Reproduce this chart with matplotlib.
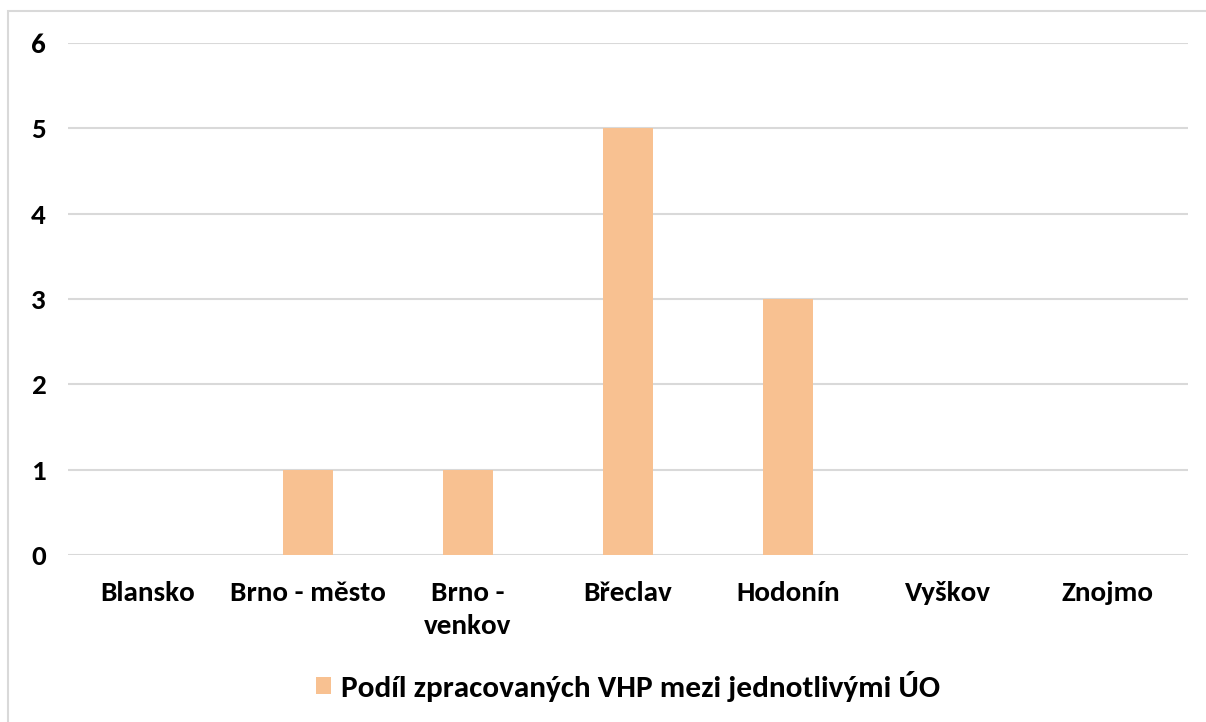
import matplotlib
matplotlib.use("Agg")
import matplotlib.pyplot as plt
from matplotlib.patches import Rectangle, Patch

categories = ["Blansko", "Brno - město", "Brno -\nvenkov", "Břeclav", "Hodonín", "Vyškov", "Znojmo"]
values = [0, 1, 1, 5, 3, 0, 0]
series_name = "Podíl zpracovaných VHP mezi jednotlivými ÚO"
yticks = [0, 1, 2, 3, 4, 5, 6]

plt.rcParams['font.family'] = ['Carlito', 'Liberation Sans', 'DejaVu Sans']

W, H = 1206, 722
fig = plt.figure(figsize=(W / 100, H / 100), dpi=100)
ax = fig.add_axes([68 / W, 1 - 555 / H, 1120 / W, (555 - 43) / H])

bar_color = "#F8C191"
x = list(range(len(categories)))
ax.bar(x, values, width=0.31, color=bar_color, zorder=3)
ax.set_xlim(-0.5, len(categories) - 0.5)
ax.set_ylim(0, 6)
ax.set_yticks(yticks)
ax.set_yticklabels([str(t) for t in yticks], fontsize=21, fontweight='bold')
ax.set_xticks(x)
ax.set_xticklabels(categories, fontsize=21, fontweight='bold', linespacing=1.45)
ax.tick_params(axis='both', length=0, colors='black')
ax.tick_params(axis='y', pad=16)
ax.tick_params(axis='x', pad=19)
ax.grid(axis='y', color='#D9D9D9', linewidth=1.5, zorder=0)
for s in ax.spines.values():
    s.set_visible(False)

leg = fig.legend(handles=[Patch(facecolor=bar_color, label=series_name)],
                 loc='center', bbox_to_anchor=(628 / W, 1 - 686 / H),
                 frameon=False, prop={'size': 22.5, 'weight': 'bold'},
                 handlelength=0.48, handleheight=0.48, handletextpad=0.3)

fig.patches.append(Rectangle((8 / W, -0.1), 1.2, 1 - 11 / H + 0.1, transform=fig.transFigure,
                             fill=False, edgecolor='#D9D9D9', linewidth=1.5))

fig.savefig("out.png", dpi=100, facecolor='white')
